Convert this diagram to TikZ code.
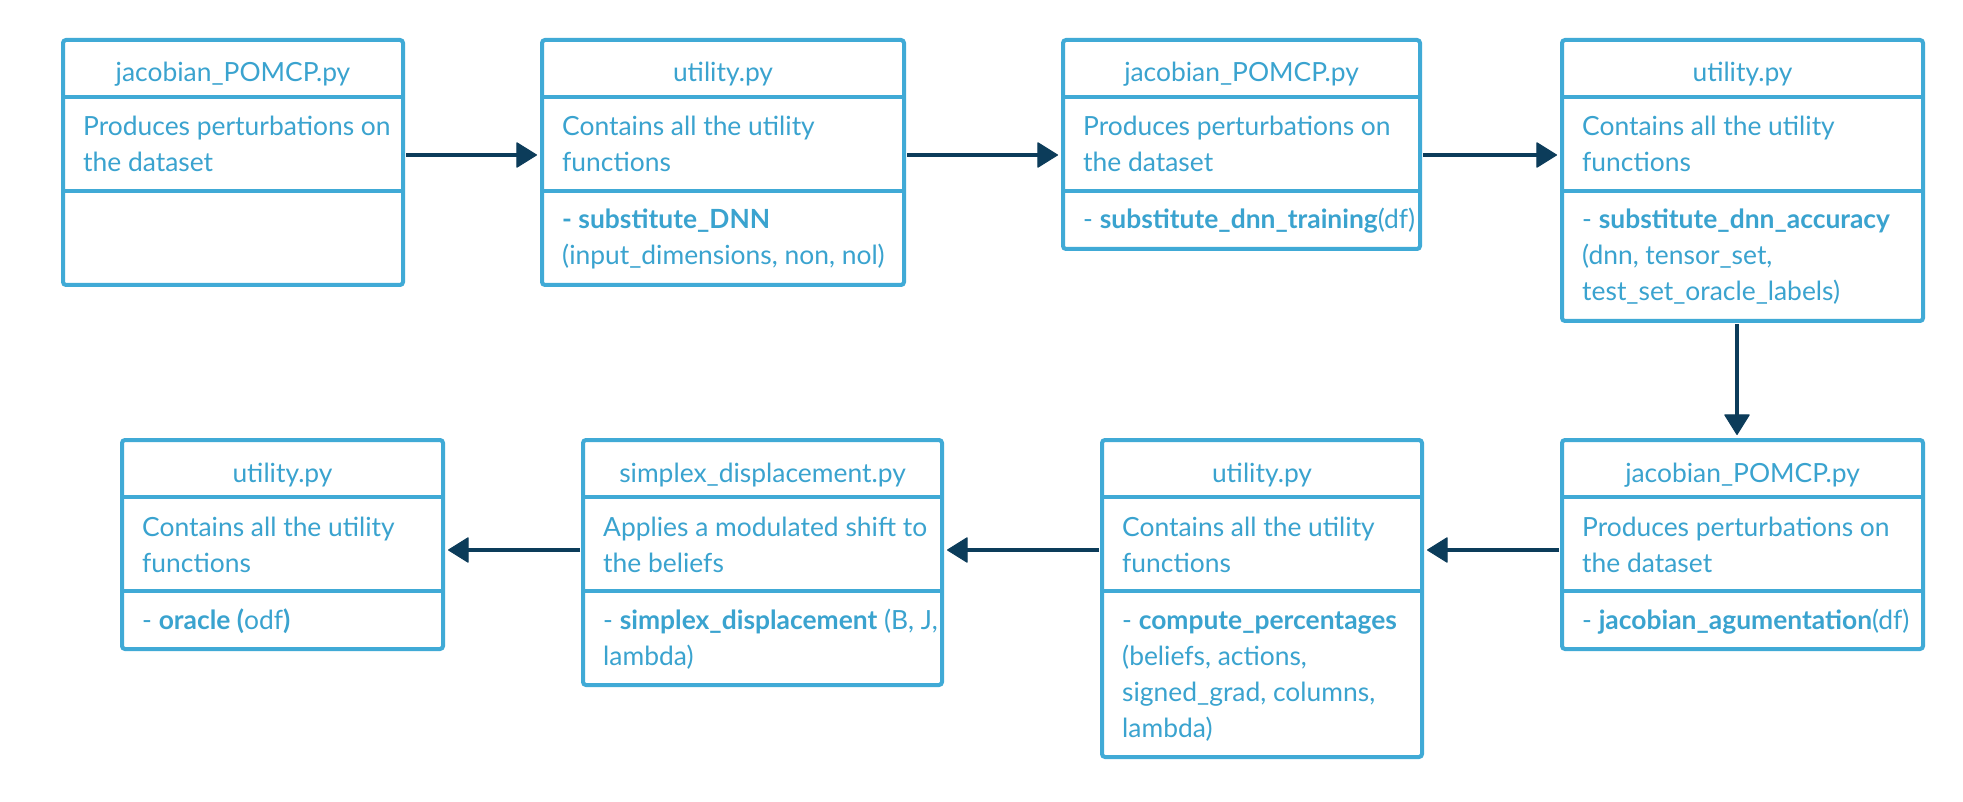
\documentclass[tikz,border=0pt]{standalone}
\usepackage{fontspec}
\setmainfont{Lato}
\usetikzlibrary{arrows.meta}
\definecolor{boxblue}{RGB}{64,170,214}
\definecolor{txtblue}{RGB}{58,163,207}
\definecolor{arrnavy}{RGB}{12,60,90}
\tikzset{
  ubox/.style={draw=boxblue, line width=4pt, rounded corners=3pt, outer sep=0pt, inner sep=0pt, fill=white},
  ubline/.style={draw=boxblue, line width=4pt},
  ttl/.style={anchor=base, inner sep=0pt, text=txtblue, font=\fontsize{26.4}{36}\selectfont},
  txt/.style={anchor=base west, inner sep=0pt, text=txtblue, font=\fontsize{26.4}{36}\selectfont},
  arr/.style={draw=arrnavy, line width=4pt, shorten <=3pt, shorten >=5pt,
    -{Triangle[length=21pt,width=26pt,round,line width=1pt]}},
}
\newcommand\umlbox[5]{%
  \node[ubox, minimum width={#3-#2}, minimum height={#5-#4}, anchor=north west] (#1) at (#2,#4) {};
  \draw[ubline] (#2,#4+57) -- (#3,#4+57);
  \draw[ubline] (#2,#4+151) -- (#3,#4+151);
}
\begin{document}
\begin{tikzpicture}[x=1pt,y=-1pt]
\useasboundingbox[fill=white] (0,0) rectangle (1963,802);
% ---------- top row ----------
\umlbox{b1}{63}{403}{40}{285}
\node[ttl] (b1t) at (233,82) {jacobian\_POMCP.py};
\node[txt] (b1a) at (83,136) {Produces perturbations on};
\node[txt] (b1b) at (83,172) {the dataset};

\umlbox{b2}{542}{904}{40}{285}
\node[ttl] (b2t) at (723,82) {utility.py};
\node[txt] (b2a) at (562,136) {Contains all the utility};
\node[txt] (b2b) at (562,172) {functions};
\node[txt] (b2c) at (562,229) {\textbf{- substitute\_DNN}};
\node[txt] (b2d) at (562,265) {(input\_dimensions, non, nol)};

\umlbox{b3}{1063}{1420}{40}{249}
\node[ttl] (b3t) at (1241.5,82) {jacobian\_POMCP.py};
\node[txt] (b3a) at (1083,136) {Produces perturbations on};
\node[txt] (b3b) at (1083,172) {the dataset};
\node[txt] (b3c) at (1083,229) {- \textbf{substitute\_dnn\_training}(df)};

\umlbox{b4}{1562}{1923}{40}{321}
\node[ttl] (b4t) at (1742.5,82) {utility.py};
\node[txt] (b4a) at (1582,136) {Contains all the utility};
\node[txt] (b4b) at (1582,172) {functions};
\node[txt] (b4c) at (1582,229) {- \textbf{substitute\_dnn\_accuracy}};
\node[txt] (b4d) at (1582,265) {(dnn, tensor\_set,};
\node[txt] (b4e) at (1582,301) {test\_set\_oracle\_labels)};

% ---------- bottom row ----------
\umlbox{b5}{1562}{1923}{440}{649}
\node[ttl] (b5t) at (1742.5,482) {jacobian\_POMCP.py};
\node[txt] (b5a) at (1582,536) {Produces perturbations on};
\node[txt] (b5b) at (1582,572) {the dataset};
\node[txt] (b5c) at (1582,629) {- \textbf{jacobian\_agumentation}(df)};

\umlbox{b6}{1102}{1422}{440}{757}
\node[ttl] (b6t) at (1262,482) {utility.py};
\node[txt] (b6a) at (1122,536) {Contains all the utility};
\node[txt] (b6b) at (1122,572) {functions};
\node[txt] (b6c) at (1122,629) {- \textbf{compute\_percentages}};
\node[txt] (b6d) at (1122,665) {(beliefs, actions,};
\node[txt] (b6e) at (1122,701) {signed\_grad, columns,};
\node[txt] (b6f) at (1122,737) {lambda)};

\umlbox{b7}{583}{942}{440}{685}
\node[ttl] (b7t) at (762.5,482) {simplex\_displacement.py};
\node[txt] (b7a) at (603,536) {Applies a modulated shift to};
\node[txt] (b7b) at (603,572) {the beliefs};
\node[txt] (b7c) at (603,629) {- \textbf{simplex\_displacement} (B, J,};
\node[txt] (b7d) at (603,665) {lambda)};

\umlbox{b8}{122}{443}{440}{649}
\node[ttl] (b8t) at (282.5,482) {utility.py};
\node[txt] (b8a) at (142,536) {Contains all the utility};
\node[txt] (b8b) at (142,572) {functions};
\node[txt] (b8c) at (142,629) {- \textbf{oracle (}odf\textbf{)}};

% ---------- connectors ----------
\coordinate (rowA) at (0,155);
\coordinate (rowB) at (0,550);
\coordinate (colD) at (1737,0);
\draw[arr] (b1.east |- rowA) -- (b2.west |- rowA);
\draw[arr] (b2.east |- rowA) -- (b3.west |- rowA);
\draw[arr] (b3.east |- rowA) -- (b4.west |- rowA);
\draw[arr] (b4.south -| colD) -- (b5.north -| colD);
\draw[arr] (b5.west |- rowB) -- (b6.east |- rowB);
\draw[arr] (b6.west |- rowB) -- (b7.east |- rowB);
\draw[arr] (b7.west |- rowB) -- (b8.east |- rowB);
\end{tikzpicture}
\end{document}
